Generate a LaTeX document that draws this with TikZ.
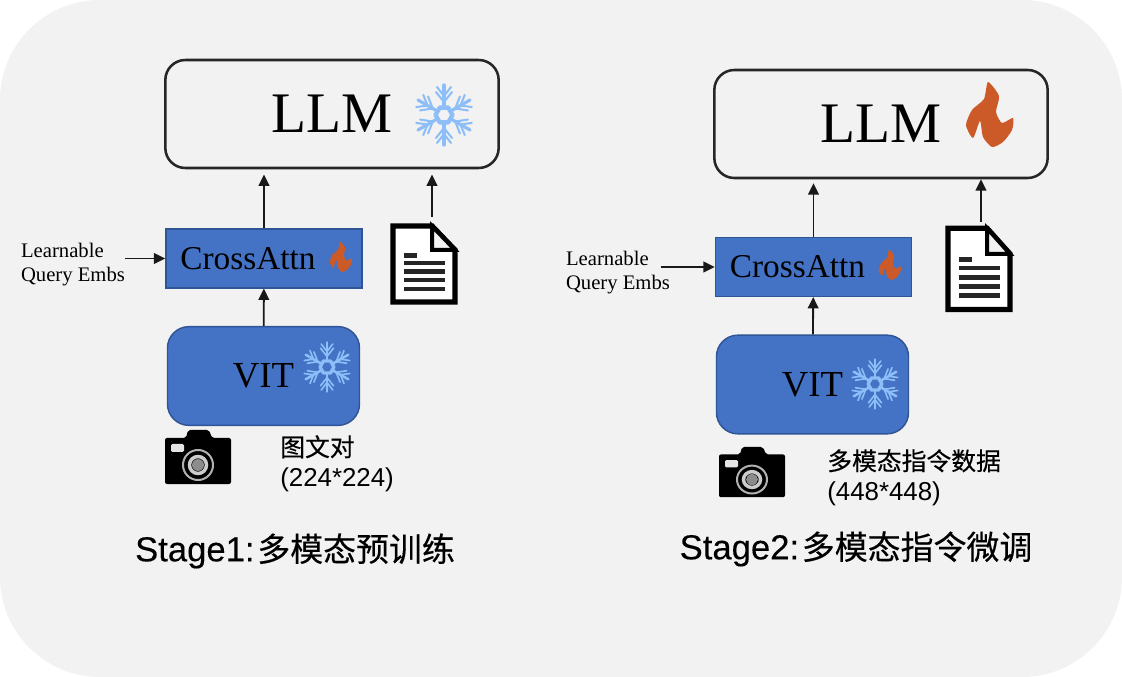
\documentclass[tikz,border=0pt]{standalone}
\usepackage{fontspec}
\setmainfont{Liberation Serif}
\newfontfamily\cjkheavy[FakeBold=.35]{Noto Sans CJK SC}
\newfontfamily\arialfont{Liberation Sans}
\newfontfamily\arialheavy[FakeBold=.2]{Liberation Sans}
\newcommand\stagecjk{\cjkheavy\fontsize{24.7}{28}\selectfont}
\newcommand\datacjk{\cjkheavy\fontsize{18.6}{24}\selectfont}
\usetikzlibrary{arrows.meta}
\definecolor{panelgray}{HTML}{F2F2F2}
\definecolor{boxblue}{HTML}{4472C4}
\definecolor{boxedge}{HTML}{2F5597}
\definecolor{flakeblue}{HTML}{8DBEF8}
\definecolor{flameorange}{HTML}{CC5A28}
\tikzset{
%Define standard arrow tip
>={Triangle[length=8.5pt,width=8pt]},
%Define style for the boxes and lines
flow/.style={->, line width=1.4pt, color=black!90},
llmbox/.style={draw=black!85, line width=1.9pt, fill=panelgray, rounded corners=15pt,
  minimum width=250pt, minimum height=81pt, font=\fontsize{43}{48}\selectfont},
crossbox/.style={draw=boxedge, line width=1.1pt, fill=boxblue, inner sep=0pt,
  minimum width=147pt, minimum height=44pt, font=\fontsize{25}{28}\selectfont},
vitbox/.style={draw=boxedge, line width=1.1pt, fill=boxblue, rounded corners=16pt, inner sep=0pt,
  minimum width=144pt, minimum height=74pt, font=\fontsize{27.5}{30}\selectfont},
querytext/.style={align=left, inner sep=0pt, font=\fontsize{15.5}{18}\selectfont},
datatext/.style={align=left, inner sep=0pt, font=\arialfont\fontsize{19.4}{24}\selectfont},
stagetext/.style={inner sep=0pt, font=\arialheavy\fontsize{26}{28}\selectfont},
%Icons, drawn around their own origin
pics/snowflake/.style={code={
  \draw[flakeblue, line width=1.35*#1, line join=round] (0:8.5) -- (60:8.5) -- (120:8.5) -- (180:8.5) -- (240:8.5) -- (300:8.5) -- cycle;
  \foreach \a in {30,90,...,330}{
    \begin{scope}[rotate=\a]
      \draw[flakeblue, line width=#1, line cap=round] (8.5,0) -- (30,0);
      \draw[flakeblue, line width=.65*#1, line cap=round] (13,0) -- (23,8) (13,0) -- (23,-8) (19,0) -- (28,7) (19,0) -- (28,-7);
    \end{scope}
  }
}},
pics/flame/.style={code={
  \fill[flameorange] plot[smooth cycle, tension=.4] coordinates {(-2,-33) (9,-19) (6,-3) (12,8) (23,3) (22,15) (13,27) (2,32) (-7,22) (-10,6) (-17,23) (-24,10) (-18,-5) (-6,-16)};
}},
pics/docicon/.style={code={
  \draw[black, line width=4pt, fill=white, line join=miter] (3,3) -- (42,3) -- (65,27) -- (65,79) -- (3,79) -- cycle;
  \draw[black, line width=3pt, fill=panelgray] (42,3) -- (42,27) -- (65,27) -- cycle;
  \fill[black!85] (14,30) rectangle (27,35);
  \foreach \b in {38,46.5,55,64}{
    \fill[black!85] (14,\b) rectangle (55,\b+4.5);
  }
}},
pics/cameraicon/.style={code={
  \fill[black, rounded corners=1.5pt] (0,8) -- (21,8) -- (23,0) -- (44,0) -- (47,8) -- (66,8) -- (66,54) -- (0,54) -- cycle;
  \fill[white!90!black, rounded corners=1pt] (6,14) rectangle (19,22);
  \draw[white!70!black, line width=1.5pt] (33,35) circle (15);
  \fill[white!55!black] (33,35) circle (6);
  \draw[white!80!black, line width=2.6pt] (33,35) circle (8.5);
}},
}

\begin{document}
\begin{tikzpicture}[x=.75pt,y=-.75pt]
    \useasboundingbox (0,0) rectangle (1122,677);
    %Draw the panel
    \fill[panelgray, rounded corners=75pt] (0,0) rectangle (1122,677);

    %%%%%%%%%%%%%%%%%%%%%%
    %First stage
    %%%%%%%%%%%%%%%%%%%%%%
    \node[llmbox] (llma) at (332,114) {LLM};
    \node[crossbox] (crossa) at (264,258.5) {CrossAttn\hspace*{24pt}};
    \node[vitbox] (vita) at (263.5,376) {VIT};
    \node[querytext] (querya) at (73,265) {Learnable\\Query Embs};
    \node[datatext, anchor=north west] (dataa) at (280,435) {{\datacjk 图文对}\\[-1.5pt](224*224)};
    \node[stagetext] (stagea) at (295,551) {Stage1:\kern 2pt{\stagecjk 多模态预训练}};
    \coordinate (doca) at (432,217);

    \draw[flow] (vita) -- (crossa);
    \draw[flow, shorten >=4pt] (crossa) -- (crossa |- llma.south);
    \draw[flow, shorten >=4pt] (doca) -- (doca |- llma.south);
    \draw[flow] (querya.east |- crossa) -- (crossa);

    \pic at (444,115) {snowflake=2.4pt};
    \pic[scale=.82] at (327,367) {snowflake=1.9pt};
    \pic[scale=.47] at (341,257) {flame};
    \pic at (390,223) {docicon};
    \pic at (165,430) {cameraicon};

    %%%%%%%%%%%%%%%%%%%%%%
    %Second stage
    %%%%%%%%%%%%%%%%%%%%%%
    \node[llmbox] (llmb) at (881,124) {LLM};
    \node[crossbox] (crossb) at (813.5,267) {CrossAttn\hspace*{24pt}};
    \node[vitbox] (vitb) at (812.5,384.5) {VIT};
    \node[querytext] (queryb) at (618,273) {Learnable\\Query Embs};
    \node[datatext, anchor=north west] (datab) at (827,449) {{\datacjk 多模态指令数据}\\[-1.5pt](448*448)};
    \node[stagetext] (stageb) at (856,549) {Stage2:\kern 2pt{\stagecjk 多模态指令微调}};
    \coordinate (docb) at (981,222);

    \draw[flow] (vitb) -- (crossb);
    \draw[flow, shorten >=3pt] (crossb) -- (crossb |- llmb.south);
    \draw[flow] (docb) -- (docb |- llmb.south);
    \draw[flow] ([xshift=-7pt]queryb.east |- crossb) -- (crossb);

    \pic[scale=.82] at (875,384) {snowflake=1.9pt};
    \pic at (990,115) {flame};
    \pic[scale=.47] at (890,265) {flame};
    \pic[yscale=1.07] at (945,225) {docicon};
    \pic[yscale=.93] at (719,447) {cameraicon};
\end{tikzpicture}
\end{document}
